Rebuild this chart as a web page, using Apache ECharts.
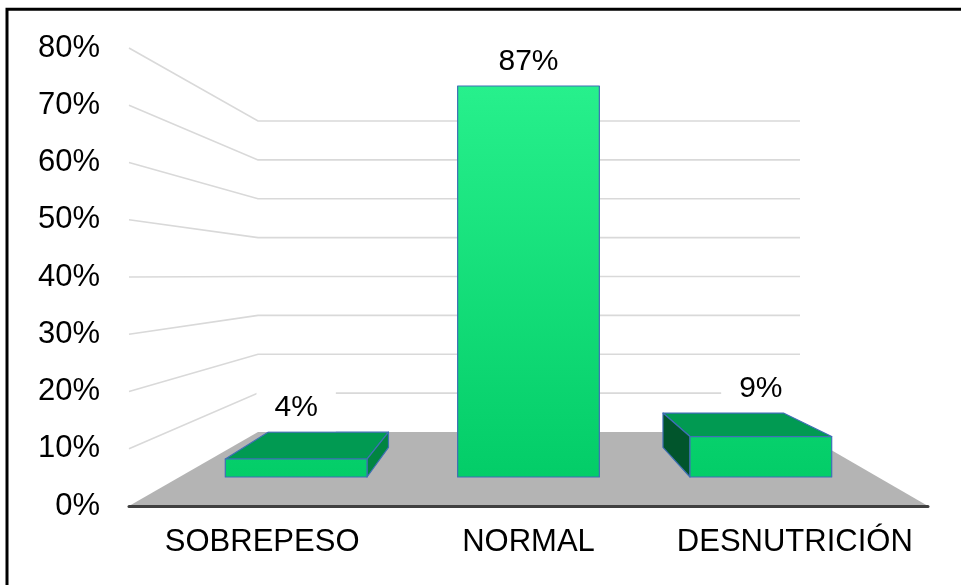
<!DOCTYPE html>
<html>
<head>
<meta charset="utf-8">
<script src="https://cdn.jsdelivr.net/npm/echarts@6/dist/echarts.min.js"></script>
<style>
  html, body { margin: 0; padding: 0; background: #fff; }
  #chart { width: 961px; height: 585px; }
</style>
</head>
<body>
<div id="chart"></div>
<script>
// Estado nutricional – distribución porcentual
const CATEGORIES = ['SOBREPESO', 'NORMAL', 'DESNUTRICIÓN'];
const PERCENTS = [4, 87, 9];
const Y_TICKS = [0, 10, 20, 30, 40, 50, 60, 70, 80];

const FONT = '"Liberation Sans", Arial, sans-serif';
const DEPTH = 0.85;            // back face scale for the 3D boxes
const VANISH = [510, 280];     // perspective vanishing point (px)
const BAR_FRAC = 0.61;         // bar width as share of a category band

const chart = echarts.init(document.getElementById('chart'), null, { renderer: 'canvas' });

const frontFill = new echarts.graphic.LinearGradient(0, 477, 0, 86, [
  { offset: 0, color: '#03cd68' },
  { offset: 1, color: '#27f08c' }
], true);

function renderBox(params, api) {
  const idx = api.value(0);
  const val = api.value(1);
  const base = api.coord([idx, 0]);
  const top = api.coord([idx, val]);
  const w = api.size([1, 0])[0] * BAR_FRAC;
  const xl = base[0] - w / 2, xr = base[0] + w / 2;
  const yb = base[1], yt = top[1];
  const back = (x, y) => [VANISH[0] + DEPTH * (x - VANISH[0]), VANISH[1] + DEPTH * (y - VANISH[1])];
  const edge = { stroke: '#3f6fb5', lineWidth: 1.2, lineJoin: 'round' };
  const children = [];
  let highest = yt;

  if (yt > VANISH[1]) {
    const pts = [[xl, yt], [xr, yt], back(xr, yt), back(xl, yt)];
    highest = Math.min(highest, pts[2][1]);
    children.push({ type: 'polygon', shape: { points: pts }, style: Object.assign({ fill: '#019a52' }, edge) });
  }
  if (xr < VANISH[0]) {
    children.push({ type: 'polygon', shape: { points: [[xr, yt], [xr, yb], back(xr, yb), back(xr, yt)] },
      style: Object.assign({ fill: '#018541' }, edge) });
  }
  if (xl > VANISH[0]) {
    children.push({ type: 'polygon', shape: { points: [[xl, yt], [xl, yb], back(xl, yb), back(xl, yt)] },
      style: Object.assign({ fill: '#01552c' }, edge) });
  }
  children.push({ type: 'rect', shape: { x: xl, y: yt, width: xr - xl, height: yb - yt },
    style: Object.assign({ fill: frontFill }, edge) });
  children.push({
    type: 'text', z2: 10,
    style: {
      text: val + '%', x: base[0], y: highest - 24,
      align: 'center', verticalAlign: 'middle',
      font: '30px ' + FONT, fill: '#000',
      backgroundColor: '#fff', padding: [8, 18]
    }
  });
  return { type: 'group', children };
}

chart.setOption({
  animation: false,
  backgroundColor: '#fff',
  grid: [
    { left: 129, right: 33, top: 48, bottom: 79 },     // front plane (axis labels)
    { left: 180, right: 84, top: 27.6, bottom: 108 },  // bar plane
    { left: 258, right: 161, top: 121, bottom: 153 }   // back wall
  ],
  xAxis: [
    { gridIndex: 0, type: 'category', data: CATEGORIES, z: 3,
      axisLine: { lineStyle: { color: '#404040', width: 3 } },
      axisTick: { show: false },
      axisLabel: { interval: 0, fontFamily: FONT, fontSize: 31, color: '#000', margin: 21, lineHeight: 31 } },
    { gridIndex: 0, type: 'value', min: 0, max: 1, show: false, position: 'top' },
    { gridIndex: 1, type: 'category', data: CATEGORIES, show: false },
    { gridIndex: 2, type: 'value', min: 0, max: 1, show: false }
  ],
  yAxis: [
    { gridIndex: 0, type: 'value', min: Y_TICKS[0], max: Y_TICKS[Y_TICKS.length - 1], interval: 10,
      axisLine: { show: false }, axisTick: { show: false }, splitLine: { show: false },
      axisLabel: { formatter: v => v + '%', fontFamily: FONT, fontSize: 31, color: '#000', margin: 29 } },
    { gridIndex: 1, type: 'value', min: 0, max: 100, show: false, splitLine: { show: false } },
    { gridIndex: 2, type: 'value', min: 0, max: 80, show: false, splitLine: { show: false } }
  ],
  series: [{
    type: 'custom',
    xAxisIndex: 2, yAxisIndex: 1,
    z: 4,
    data: PERCENTS.map((v, i) => [i, v]),
    renderItem: renderBox
  }]
});

// Floor, bent gridlines and frame, positioned through the axes
const front = (v, t) => chart.convertToPixel({ xAxisIndex: 1, yAxisIndex: 0 }, [t, v]);
const backWall = (v, t) => chart.convertToPixel({ xAxisIndex: 3, yAxisIndex: 2 }, [t, v]);

const graphics = [];
graphics.push({
  type: 'polygon', z: 0,
  shape: { points: [front(0, 0), front(0, 1), backWall(0, 1), backWall(0, 0)] },
  style: { fill: '#b4b4b4' }
});
Y_TICKS.filter(v => v > 0).forEach(v => {
  graphics.push({
    type: 'polyline', z: 0,
    shape: { points: [front(v, 0), backWall(v, 0), backWall(v, 1)] },
    style: { stroke: '#d9d9d9', lineWidth: 1.6, fill: null }
  });
});
graphics.push({
  type: 'rect', z: 10,
  shape: { x: 7, y: 9.3, width: 1000, height: 1000 },
  style: { fill: null, stroke: '#000', lineWidth: 3 }
});
chart.setOption({ graphic: graphics });
</script>
</body>
</html>
